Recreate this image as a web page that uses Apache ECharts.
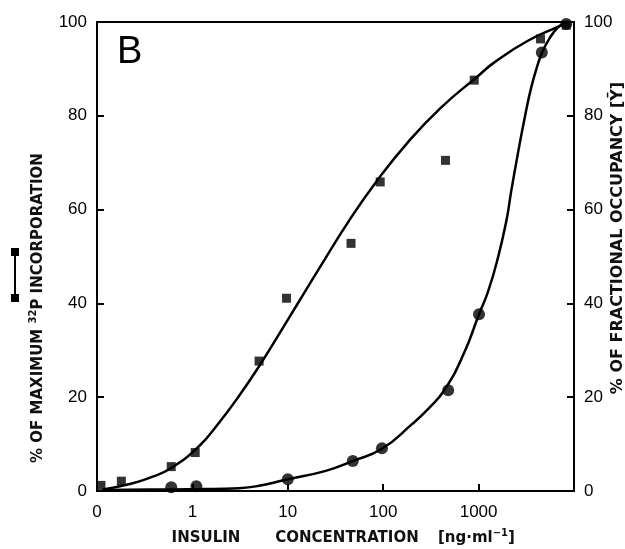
<!DOCTYPE html>
<html>
<head>
<meta charset="utf-8">
<script src="https://cdn.jsdelivr.net/npm/echarts@6/dist/echarts.min.js"></script>
<style>html,body{margin:0;padding:0;background:#fff}#c{width:625px;height:549px}</style>
</head>
<body>
<div id="c"></div>
<script>
// Squares: % of maximum 32P incorporation
var sqX = [0.11, 0.18, 0.6, 1.07, 5, 9.7, 46, 93, 450, 900, 4460, 8300];
var sqY = [1.2, 2.1, 5.2, 8.2, 27.7, 41.1, 52.8, 65.9, 70.5, 87.6, 96.4, 99.3];
// Circles: % of fractional occupancy
var ciX = [0.6, 1.1, 10, 48, 97, 480, 1010, 4600, 8300];
var ciY = [0.8, 1.0, 2.5, 6.4, 9.1, 21.5, 37.7, 93.5, 99.6];
// Fitted curve (squares)
var sqFitX = [0.115, 0.22, 0.355, 0.6, 1.18, 1.91, 3.09, 5, 8.07, 13.1, 21.1, 43.4, 85, 184, 406, 988, 1486, 3286, 7265, 8300];
var sqFitY = [0.3, 1.5, 2.8, 4.9, 9.6, 14.6, 20.3, 26.6, 33.4, 40.4, 47.3, 57.5, 66, 74.5, 81.8, 88.5, 91.5, 96, 99.3, 100];
// Fitted curve (circles)
var ciFitX = [0.115, 0.355, 1.18, 3.1, 5, 9.5, 25, 48, 97, 199, 300, 444, 700, 1010, 1256, 1598, 1951, 2200, 2584, 3036, 3558, 4180, 4630, 5538, 6760, 8300];
var ciFitY = [0.2, 0.3, 0.4, 0.6, 1.1, 2.4, 4.3, 6.4, 9.0, 14.2, 17.6, 21.7, 29.3, 37.7, 42.5, 49.8, 57.5, 64, 72, 79.5, 86, 91, 93.5, 96.5, 98.8, 100];
var yTicks = [0, 20, 40, 60, 80, 100];

function pairs(xs, ys) { return xs.map(function (x, i) { return [x, ys[i]]; }); }

var chart = echarts.init(document.getElementById('c'), null, {renderer: 'canvas'});
var labelFont = {color: '#000', fontSize: 17, fontFamily: 'Liberation Sans'};
var yAxisBase = {
  type: 'value', min: yTicks[0], max: yTicks[yTicks.length - 1], interval: 20,
  axisLine: {show: true, lineStyle: {color: '#000', width: 2}},
  axisTick: {show: true, inside: true, length: 7, lineStyle: {color: '#000', width: 2}},
  splitLine: {show: false},
};
var titleFont = {fontSize: 15, fontWeight: 'bold', fontFamily: 'DejaVu Sans', fill: '#111'};
var supStyle = {fontSize: 10, fontWeight: 'bold', fontFamily: 'DejaVu Sans', verticalAlign: 'top', fill: '#111'};
chart.setOption({
  animation: false,
  backgroundColor: '#fff',
  grid: {left: 97, right: 51, top: 22, bottom: 58, show: true, borderColor: '#000', borderWidth: 2, backgroundColor: 'transparent'},
  xAxis: {
    type: 'log', logBase: 10, min: 0.1, max: 10000,
    axisLine: {show: true, lineStyle: {color: '#000', width: 2}},
    axisTick: {show: true, inside: true, length: 7, lineStyle: {color: '#000', width: 2}},
    splitLine: {show: false},
    minorTick: {show: false},
    axisLabel: Object.assign({margin: 13, formatter: function (v) {
      if (Math.abs(v - 0.1) < 1e-6) return '0';
      if (v > 5000) return '';
      return String(Math.round(v));
    }}, labelFont)
  },
  yAxis: [
    Object.assign({position: 'left', axisLabel: Object.assign({margin: 10}, labelFont)}, yAxisBase),
    Object.assign({position: 'right', axisLabel: Object.assign({margin: 10}, labelFont)}, yAxisBase)
  ],
  series: [
    {type: 'line', data: pairs(sqFitX, sqFitY), smooth: 0.5, showSymbol: false, symbol: 'none',
     lineStyle: {color: '#000', width: 2.5}, z: 2},
    {type: 'line', data: pairs(ciFitX, ciFitY), smooth: 0.5, showSymbol: false, symbol: 'none',
     lineStyle: {color: '#000', width: 2.5}, z: 2},
    {type: 'scatter', data: pairs(sqX, sqY), symbol: 'rect', symbolSize: 9,
     itemStyle: {color: '#000'}, z: 3},
    {type: 'scatter', data: pairs(ciX, ciY), symbol: 'circle', symbolSize: 12,
     itemStyle: {color: '#000'}, z: 3}
  ],
  graphic: [
    {type: 'text', left: 117, top: 34, style: {text: 'B', fontSize: 38, fontFamily: 'Liberation Sans', fill: '#000'}},
    {type: 'text', x: 38, y: 308, rotation: Math.PI / 2,
     style: Object.assign({text: '% OF MAXIMUM {sup|32}P INCORPORATION', align: 'center', verticalAlign: 'middle', lineHeight: 20,
       rich: {sup: supStyle}}, titleFont)},
    {type: 'text', x: 618, y: 238, rotation: Math.PI / 2,
     style: Object.assign({text: '% OF FRACTIONAL OCCUPANCY [Ȳ]', align: 'center', verticalAlign: 'middle'}, titleFont, {fontSize: 16})},
    {type: 'text', x: 206, y: 538,
     style: Object.assign({text: 'INSULIN', align: 'center', verticalAlign: 'middle'}, titleFont)},
    {type: 'text', x: 347, y: 538,
     style: Object.assign({text: 'CONCENTRATION', align: 'center', verticalAlign: 'middle'}, titleFont)},
    {type: 'text', x: 438, y: 538,
     style: Object.assign({text: '[ng·ml{sup|−1}]', align: 'left', verticalAlign: 'middle', lineHeight: 20,
       rich: {sup: supStyle}}, titleFont)},
    {type: 'line', shape: {x1: 15, y1: 252, x2: 15, y2: 298}, style: {stroke: '#000', lineWidth: 2}},
    {type: 'rect', shape: {x: 11, y: 248, width: 8, height: 8}, style: {fill: '#000'}},
    {type: 'rect', shape: {x: 11, y: 294, width: 8, height: 8}, style: {fill: '#000'}}
  ]
});
</script>
</body>
</html>
